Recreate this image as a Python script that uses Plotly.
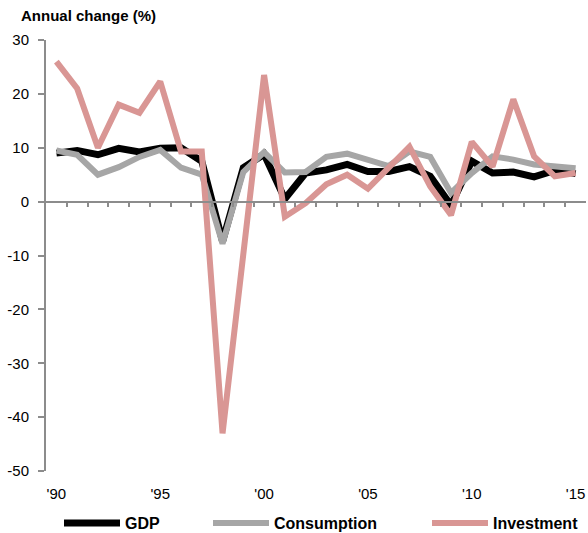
import plotly.graph_objects as go

years = list(range(1990, 2016))
gdp = [9.0, 9.5, 8.7, 9.9, 9.2, 9.9, 10.0, 7.5, -7.4, 6.3, 8.8, 0.5, 5.3, 5.9, 6.9,
       5.6, 5.6, 6.5, 4.7, -0.7, 7.5, 5.3, 5.5, 4.6, 5.8, 5.2]
consumption = [9.5, 8.7, 5.0, 6.4, 8.3, 9.6, 6.3, 5.0, -7.8, 5.5, 9.2, 5.4, 5.5, 8.3, 8.9,
               7.8, 6.6, 9.3, 8.3, 1.6, 5.3, 8.4, 7.8, 6.9, 6.5, 6.2]
investment = [26.0, 21.0, 10.0, 18.0, 16.5, 22.3, 9.3, 9.3, -43.0, -10.0, 23.5, -2.8, -0.3, 3.2,
              5.0, 2.4, 6.3, 10.2, 2.8, -2.5, 11.1, 6.5, 19.0, 8.4, 4.7, 5.3]

label_years = [1990, 1995, 2000, 2005, 2010, 2015]
label_text = ["'90", "'95", "'00", "'05", "'10", "'15"]
y_ticks = [30, 20, 10, 0, -10, -20, -30, -40, -50]

font = "Liberation Sans, Arial, sans-serif"
axis_grey = "#8c8c8c"

series = [
    ("GDP", gdp, "#000000", 7, "legend"),
    ("Consumption", consumption, "#a6a6a6", 6, "legend2"),
    ("Investment", investment, "#d99694", 6, "legend3"),
]

fig = go.Figure()
for name, vals, color, width, leg in series:
    fig.add_trace(go.Scatter(x=years, y=vals, mode="lines", name="<b>" + name + "</b>",
                             line=dict(color=color, width=width),
                             legend=leg))

# invisible trace so the zero-line axis is drawn
fig.add_trace(go.Scatter(x=[years[0]], y=[0], xaxis="x2", mode="markers",
                         marker=dict(opacity=0), showlegend=False, hoverinfo="skip"))

xr = [1989.5, 2015.5]
fig.update_layout(
    width=588, height=533,
    margin=dict(l=46, r=2, t=40, b=62),
    plot_bgcolor="white", paper_bgcolor="white",
    font=dict(family=font, size=15, color="#000000"),
    showlegend=True,
    xaxis=dict(range=xr, tickvals=label_years, ticktext=label_text,
               showline=False, ticks="", showgrid=False, zeroline=False,
               ticklabelstandoff=12, automargin=False),
    xaxis2=dict(range=xr, overlaying="x", anchor="free", position=50 / 80,
                side="bottom", showline=True, linecolor=axis_grey, linewidth=2,
                ticks="outside", tickvals=[y + 0.5 for y in years[:-1]],
                ticklen=4, tickcolor=axis_grey, tickwidth=2,
                showticklabels=False, showgrid=False, zeroline=False,
                automargin=False),
    yaxis=dict(range=[-50, 30], tickvals=y_ticks, ticktext=[str(v) for v in y_ticks],
               showline=True, linecolor=axis_grey,
               linewidth=2, ticks="outside", ticklen=6, tickcolor=axis_grey,
               tickwidth=2, showgrid=False, zeroline=False, ticklabelstandoff=6,
               automargin=False),
    annotations=[dict(text="<b>Annual change (%)</b>", xref="paper", yref="paper",
                      x=(19 - 46) / 540, y=1, yshift=25, xanchor="left", yanchor="middle",
                      showarrow=False, font=dict(size=15))],
)

leg_common = dict(orientation="h", xref="container", yref="container",
                  yanchor="middle", y=1 - 523 / 533, xanchor="left",
                  font=dict(size=16, family=font), itemwidth=56,
                  bgcolor="rgba(0,0,0,0)")
fig.update_layout(
    legend=dict(x=59 / 588, **leg_common),
    legend2=dict(x=208 / 588, **leg_common),
    legend3=dict(x=427 / 588, **leg_common),
)

fig.write_html("out.html", config={"displayModeBar": False},
               post_script="document.body.style.margin='0';")
